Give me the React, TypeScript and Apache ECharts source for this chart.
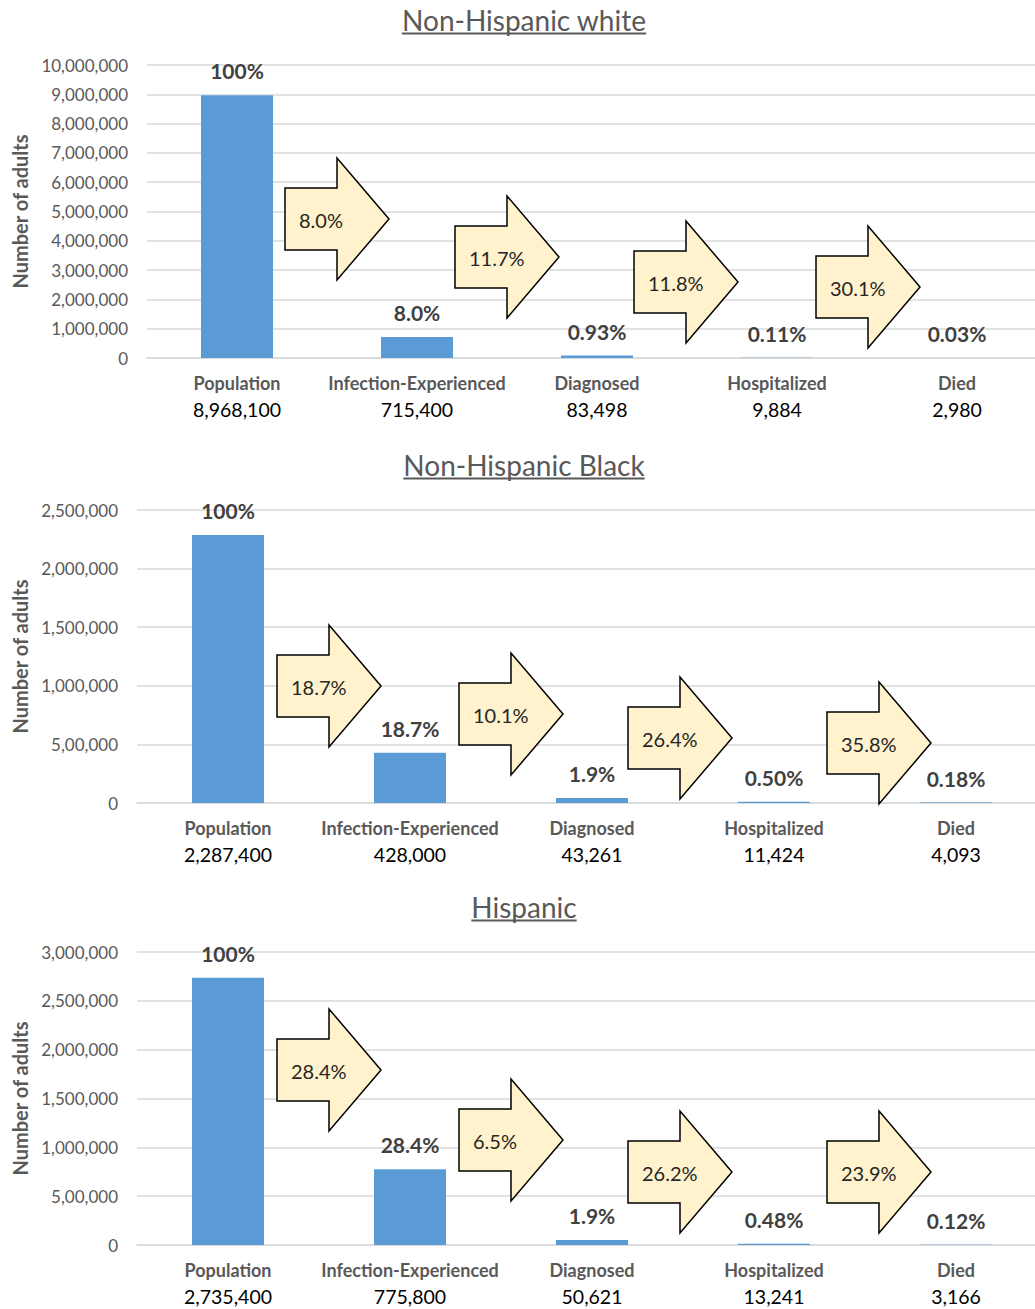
import React, { useEffect, useRef } from "react";
import * as echarts from "echarts";

const CATEGORIES = ["Population", "Infection-Experienced", "Diagnosed", "Hospitalized", "Died"];

const WHITE_VALUES = [8968100, 715400, 83498, 9884, 2980];
const WHITE_BAR_LABELS = ["100%", "8.0%", "0.93%", "0.11%", "0.03%"];
const WHITE_ARROW_LABELS = ["8.0%", "11.7%", "11.8%", "30.1%"];
const WHITE_Y_LABELS = ["0", "1,000,000", "2,000,000", "3,000,000", "4,000,000", "5,000,000", "6,000,000", "7,000,000", "8,000,000", "9,000,000", "10,000,000"];

const BLACK_VALUES = [2287400, 428000, 43261, 11424, 4093];
const BLACK_BAR_LABELS = ["100%", "18.7%", "1.9%", "0.50%", "0.18%"];
const BLACK_ARROW_LABELS = ["18.7%", "10.1%", "26.4%", "35.8%"];
const BLACK_Y_LABELS = ["0", "5,00,000", "1,000,000", "1,500,000", "2,000,000", "2,500,000"];

const HISP_VALUES = [2735400, 775800, 50621, 13241, 3166];
const HISP_BAR_LABELS = ["100%", "28.4%", "1.9%", "0.48%", "0.12%"];
const HISP_ARROW_LABELS = ["28.4%", "6.5%", "26.2%", "23.9%"];
const HISP_Y_LABELS = ["0", "5,00,000", "1,000,000", "1,500,000", "2,000,000", "2,500,000", "3,000,000"];

const TITLES = ["Non-Hispanic white", "Non-Hispanic Black", "Hispanic"];
const Y_MAX = [10000000, 2500000, 3000000];
const Y_INTERVAL = [1000000, 500000, 500000];

// layout (pixels)
const GRID_TOPS = [65, 510, 952];
const GRID_LEFTS = [147, 137, 137];
const GRID_WIDTHS = [900, 910, 910];
const GRID_HEIGHT = 293;
const TITLE_Y = [20, 465, 907];
const TITLE_X = 524;
const ARROW_POS = [
  [[285, 219], [455, 257], [634, 282], [816, 287]],
  [[277, 686], [459, 714], [628, 738], [827, 743]],
  [[277, 1070], [459, 1140], [628, 1172], [827, 1172]],
];

const FONT = "Lato, 'Noto Sans', sans-serif";

const PANELS = [
  { title: TITLES[0], values: WHITE_VALUES, barLabels: WHITE_BAR_LABELS, arrowLabels: WHITE_ARROW_LABELS, yLabels: WHITE_Y_LABELS },
  { title: TITLES[1], values: BLACK_VALUES, barLabels: BLACK_BAR_LABELS, arrowLabels: BLACK_ARROW_LABELS, yLabels: BLACK_Y_LABELS },
  { title: TITLES[2], values: HISP_VALUES, barLabels: HISP_BAR_LABELS, arrowLabels: HISP_ARROW_LABELS, yLabels: HISP_Y_LABELS },
];

function measure(text: string, font: string): number {
  const c = document.createElement("canvas").getContext("2d");
  if (!c) return text.length * 13;
  c.font = font;
  return c.measureText(text).width;
}

export default function App() {
  const ref = useRef<HTMLDivElement>(null);
  useEffect(() => {
    if (!ref.current) return;
    const chart = echarts.init(ref.current, undefined, { renderer: "svg" });

    const graphics: any[] = [];
    PANELS.forEach((p, i) => {
      const w = measure(p.title, "28px Lato");
      graphics.push({
        type: "text",
        x: TITLE_X,
        y: TITLE_Y[i],
        z: 100,
        style: { text: p.title, fontSize: 28, fontFamily: FONT, fill: "#595959", align: "center", verticalAlign: "middle" },
      });
      graphics.push({
        type: "line",
        z: 100,
        shape: { x1: TITLE_X - w / 2, y1: TITLE_Y[i] + 13.5, x2: TITLE_X + w / 2, y2: TITLE_Y[i] + 13.5 },
        style: { stroke: "#595959", lineWidth: 2 },
      });
      ARROW_POS[i].forEach(([l, cy], k) => {
        graphics.push({
          type: "polygon",
          z: 100,
          shape: {
            points: [
              [l, cy - 31], [l + 52, cy - 31], [l + 52, cy - 61], [l + 104, cy],
              [l + 52, cy + 61], [l + 52, cy + 31], [l, cy + 31],
            ],
          },
          style: { fill: "#FFF2CC", stroke: "#000", lineWidth: 1.5 },
        });
        graphics.push({
          type: "text",
          z: 101,
          x: l + 14,
          y: cy + 1,
          style: { text: p.arrowLabels[k], fontSize: 20, fontFamily: FONT, fill: "#262626", align: "left", verticalAlign: "middle" },
        });
      });
    });

    const option: any = {
      animation: false,
      backgroundColor: "#fff",
      textStyle: { fontFamily: FONT },
      grid: PANELS.map((_, i) => ({
        left: GRID_LEFTS[i],
        top: GRID_TOPS[i],
        width: GRID_WIDTHS[i],
        height: GRID_HEIGHT,
        containLabel: false,
        outerBoundsMode: "none",
      })),
      xAxis: PANELS.map((p, i) => ({
        type: "category",
        gridIndex: i,
        data: CATEGORIES,
        axisLine: { lineStyle: { color: "#d9d9d9", width: 1.5 } },
        axisTick: { show: false },
        axisLabel: {
          interval: 0,
          margin: 11,
          formatter: (v: string, idx: number) => `{n|${v}}\n{v|${p.values[idx].toLocaleString("en-US")}}`,
          rich: {
            n: { fontSize: 18, fontWeight: "bold", color: "#595959", fontFamily: FONT, lineHeight: 27 },
            v: { fontSize: 19.5, color: "#000", fontFamily: FONT, lineHeight: 27 },
          },
        },
      })),
      yAxis: PANELS.map((p, i) => ({
        type: "value",
        gridIndex: i,
        min: 0,
        max: Y_MAX[i],
        interval: Y_INTERVAL[i],
        axisLine: { show: false },
        axisTick: { show: false },
        splitLine: { lineStyle: { color: "#d9d9d9", width: 1.5 } },
        axisLabel: {
          margin: 19,
          fontSize: 17,
          color: "#595959",
          fontFamily: FONT,
          formatter: (_v: number, idx: number) => p.yLabels[idx],
        },
        name: "Number of adults",
        nameLocation: "middle",
        nameGap: GRID_LEFTS[i] - 30,
        nameTextStyle: { fontSize: 20, fontWeight: "bold", color: "#595959", fontFamily: FONT },
      })),
      series: PANELS.map((p, i) => ({
        type: "bar",
        xAxisIndex: i,
        yAxisIndex: i,
        data: p.values,
        barWidth: 72,
        itemStyle: { color: "#5B9BD5" },
        label: {
          show: true,
          position: "top",
          distance: 14,
          formatter: (d: any) => p.barLabels[d.dataIndex],
          fontSize: 21,
          fontWeight: "bold",
          color: "#404040",
          fontFamily: FONT,
        },
      })),
      graphic: graphics,
    };
    chart.setOption(option);
    return () => chart.dispose();
  }, []);

  return (
    <div style={{ position: "absolute", left: 0, top: 0, width: 1035, height: 1309, overflow: "hidden" }}>
      <div ref={ref} style={{ width: 1035, height: 1309 }} />
    </div>
  );
}
